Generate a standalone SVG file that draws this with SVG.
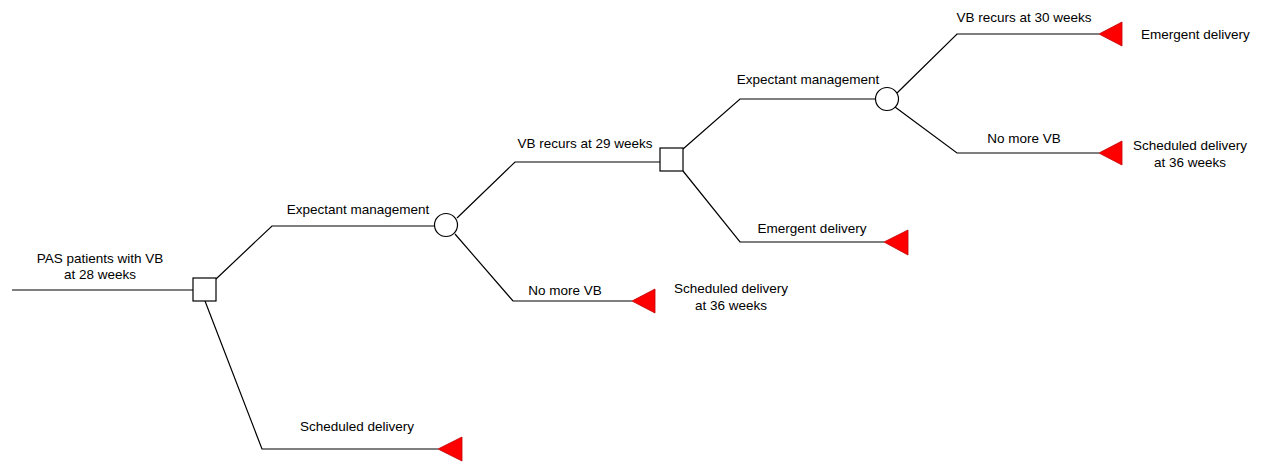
<svg xmlns="http://www.w3.org/2000/svg" width="1262" height="463" viewBox="0 0 1262 463">
  <style>
    .edge { fill: none; stroke: #000; stroke-width: 1.2; }
    .decision { fill: #fff; stroke: #000; stroke-width: 1.2; }
    .chance { fill: #fff; stroke: #000; stroke-width: 1.2; }
    .terminal { fill: #f00; stroke: #b00; stroke-width: 0.8; }
    text { font-family: "Liberation Sans", Arial, sans-serif; font-size: 13.5px; fill: #000; }
    .mid { text-anchor: middle; }
  </style>
  <rect width="1262" height="463" fill="#fff"/>

  <!-- branches -->
  <g id="connectors">
    <path class="edge" d="M12 290 H193"/>
    <path class="edge" d="M216 279 L272 226 H434"/>
    <path class="edge" d="M205 301 L262 449 H438"/>
    <path class="edge" d="M457 218 L515 162 H660"/>
    <path class="edge" d="M455 234 L513 301 H632"/>
    <path class="edge" d="M683 149 L740 99 H875"/>
    <path class="edge" d="M683 171 L740 242 H884"/>
    <path class="edge" d="M897 93 L957 34 H1099"/>
    <path class="edge" d="M895 107 L957 153 H1099"/>
  </g>

  <!-- root label -->
  <g id="root">
    <text class="mid" x="100" y="263">PAS patients with VB</text>
    <text class="mid" x="100" y="279">at 28 weeks</text>
  </g>

  <g id="decision1">
    <rect class="decision" x="193" y="278" width="23" height="23"/>
  </g>
  <g id="label-expectant1"><text class="mid" x="358" y="214">Expectant management</text></g>
  <g id="label-scheduled1"><text class="mid" x="357" y="431">Scheduled delivery</text></g>
  <g id="terminal-scheduled1">
    <polygon class="terminal" points="438,449 462,437 462,461"/>
  </g>

  <g id="chance1">
    <circle class="chance" cx="446" cy="225" r="11.5"/>
  </g>
  <g id="label-recur29"><text class="mid" x="585" y="148">VB recurs at 29 weeks</text></g>
  <g id="label-nomore1"><text class="mid" x="565" y="295">No more VB</text></g>
  <g id="terminal-scheduled36a">
    <polygon class="terminal" points="632,301 655,289 655,313"/>
    <text class="mid" x="731" y="293">Scheduled delivery</text>
    <text class="mid" x="731" y="310">at 36 weeks</text>
  </g>

  <g id="decision2">
    <rect class="decision" x="660" y="148" width="23" height="23"/>
  </g>
  <g id="label-expectant2"><text class="mid" x="808" y="84">Expectant management</text></g>
  <g id="label-emergent1"><text class="mid" x="812" y="233">Emergent delivery</text></g>
  <g id="terminal-emergent1">
    <polygon class="terminal" points="884,242 908,230 908,255"/>
  </g>

  <g id="chance2">
    <circle class="chance" cx="887" cy="99" r="11.5"/>
  </g>
  <g id="label-recur30"><text class="mid" x="1024" y="22">VB recurs at 30 weeks</text></g>
  <g id="terminal-emergent2">
    <polygon class="terminal" points="1099,34 1122,22 1122,46"/>
    <text x="1141" y="39">Emergent delivery</text>
  </g>
  <g id="label-nomore2"><text class="mid" x="1024" y="143">No more VB</text></g>
  <g id="terminal-scheduled36b">
    <polygon class="terminal" points="1099,153 1122,141 1122,165"/>
    <text class="mid" x="1190" y="150">Scheduled delivery</text>
    <text class="mid" x="1190" y="167">at 36 weeks</text>
  </g>
</svg>
